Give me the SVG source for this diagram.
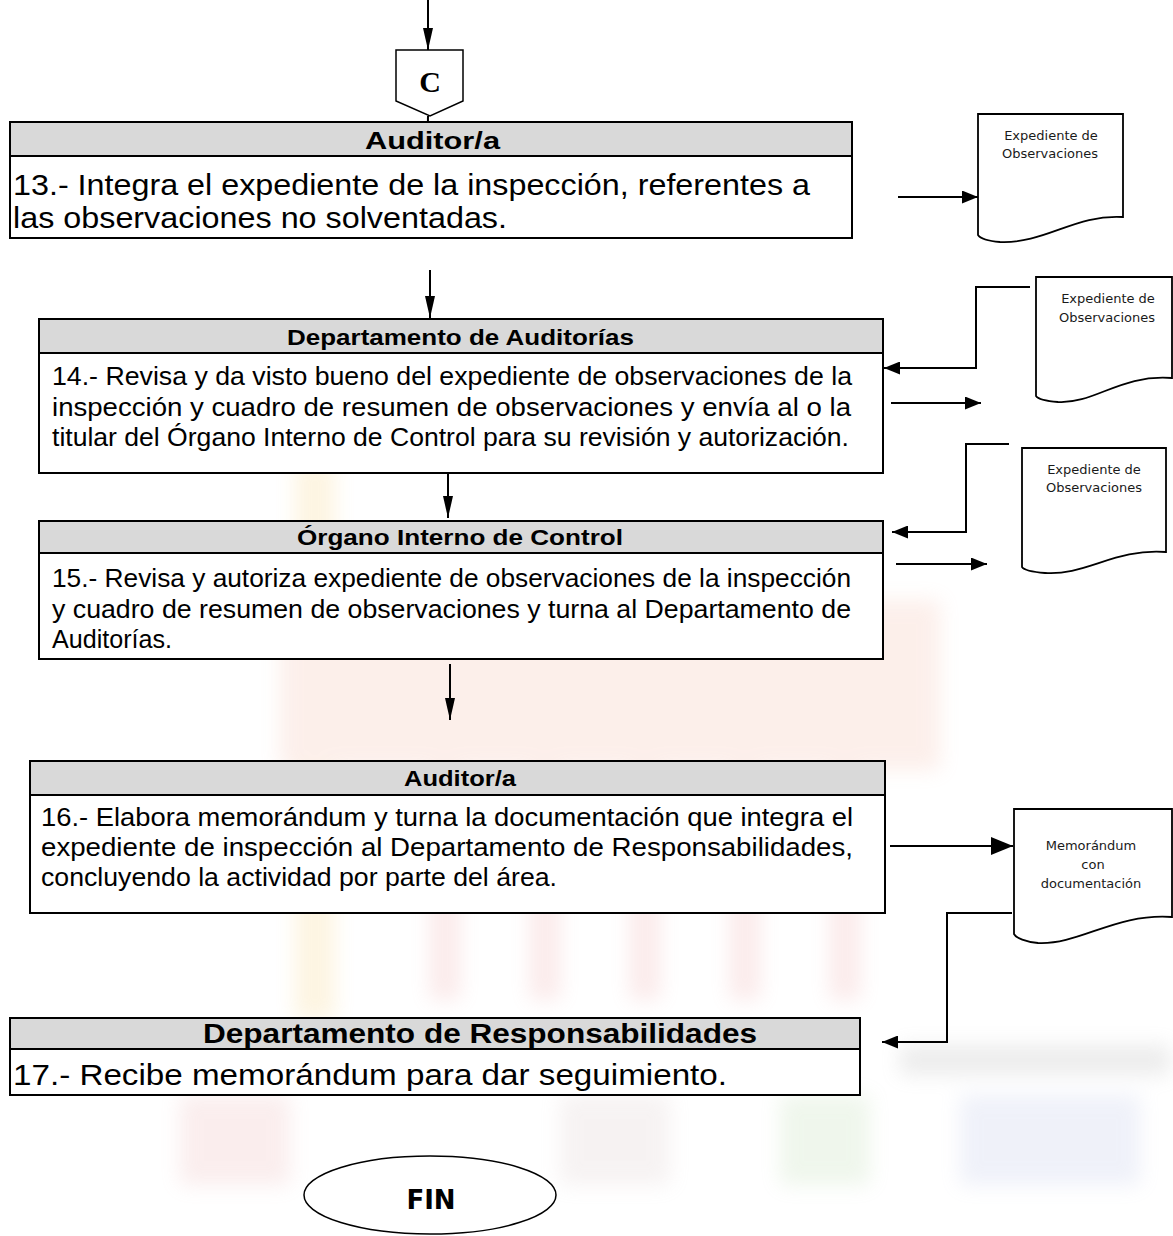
<svg xmlns="http://www.w3.org/2000/svg" width="1173" height="1236" viewBox="0 0 1173 1236">
<style>
.box{fill:#ffffff;stroke:#000;stroke-width:2}
.hdr{fill:#d9d9d9;stroke:#000;stroke-width:2}
.ht{font-family:"Liberation Sans",Arial,sans-serif;font-weight:bold;fill:#000}
.bt{font-family:"Liberation Sans",Arial,sans-serif;fill:#000}
.doc{fill:#fff;stroke:#000;stroke-width:1.8}
.dt{font-family:"DejaVu Sans",Verdana,sans-serif;font-size:13px;fill:#1a1a1a;text-anchor:middle}
.ln{fill:none;stroke:#000;stroke-width:2}
</style>
<defs>
<marker id="aV" viewBox="0 0 22 10" markerWidth="22" markerHeight="10" refX="22" refY="5" orient="auto" markerUnits="userSpaceOnUse"><path d="M0,0 L22,5 L0,10 Z" fill="#000"/></marker>
<marker id="aH" viewBox="0 0 16 13" markerWidth="16" markerHeight="13" refX="16" refY="6.5" orient="auto" markerUnits="userSpaceOnUse"><path d="M0,0 L16,6.5 L0,13 Z" fill="#000"/></marker>
<marker id="aB" viewBox="0 0 22 18" markerWidth="22" markerHeight="18" refX="22" refY="9" orient="auto" markerUnits="userSpaceOnUse"><path d="M0,0 L22,9 L0,18 Z" fill="#000"/></marker>
<filter id="blur" x="-20%" y="-20%" width="140%" height="140%"><feGaussianBlur stdDeviation="10"/></filter>
</defs>
<rect width="1173" height="1236" fill="#fff"/>
<g id="watermark" filter="url(#blur)" opacity="0.18">
<rect x="295" y="460" width="40" height="560" fill="#f5c860"/>
<rect x="280" y="600" width="660" height="170" fill="#f0a890"/>
<rect x="430" y="770" width="30" height="230" fill="#e89090"/>
<rect x="530" y="770" width="30" height="230" fill="#e89090"/>
<rect x="630" y="770" width="30" height="230" fill="#e89090"/>
<rect x="730" y="770" width="30" height="230" fill="#e89090"/>
<rect x="830" y="770" width="30" height="230" fill="#e89090"/>
<rect x="210" y="380" width="80" height="70" fill="#bbbbbb"/>
<rect x="900" y="1045" width="270" height="30" fill="#999999"/>
<rect x="180" y="1095" width="110" height="90" fill="#e6a0a0"/>
<rect x="560" y="1095" width="110" height="90" fill="#d0bcbc"/>
<rect x="780" y="1095" width="90" height="90" fill="#a8d098"/>
<rect x="960" y="1095" width="180" height="90" fill="#a8b4e0"/>
</g>
<g id="connectors">
<line class="ln" x1="428" y1="0" x2="428" y2="50" marker-end="url(#aV)"/>
<line class="ln" x1="428" y1="116" x2="427" y2="176" marker-end="url(#aV)"/>
<line class="ln" x1="898" y1="197" x2="978" y2="197" marker-end="url(#aH)"/>
<line class="ln" x1="430" y1="270" x2="430" y2="318" marker-end="url(#aV)"/>
<polyline class="ln" points="1030,287 976,287 976,368 884,368" marker-end="url(#aH)"/>
<line class="ln" x1="891" y1="403" x2="981" y2="403" marker-end="url(#aH)"/>
<line class="ln" x1="448" y1="455" x2="448" y2="518" marker-end="url(#aV)"/>
<polyline class="ln" points="1009,444 966,444 966,532 892,532" marker-end="url(#aH)"/>
<line class="ln" x1="896" y1="564" x2="987" y2="564" marker-end="url(#aH)"/>
<line class="ln" x1="450" y1="664" x2="450" y2="720" marker-end="url(#aV)"/>
<line class="ln" x1="890" y1="846" x2="1013" y2="846" stroke-width="3" marker-end="url(#aB)"/>
<polyline class="ln" points="1012,913 947,913 947,1042 882,1042" marker-end="url(#aH)"/>
</g>
<g id="conectorC">
<path d="M396,50 H463 V101 L430,116 L396,101 Z" fill="#fff" stroke="#000" stroke-width="1.5"/>
<text x="430" y="92" font-family="Liberation Serif,serif" font-weight="bold" font-size="30" text-anchor="middle">C</text>
</g>
<g id="paso13">
<rect class="box" x="10" y="122" width="842" height="116"/>
<rect class="hdr" x="10" y="122" width="842" height="34"/>
<text class="ht" x="365" y="149" font-size="24" textLength="135" lengthAdjust="spacingAndGlyphs">Auditor/a</text>
<text class="bt" x="13" y="195" font-size="29" textLength="797" lengthAdjust="spacingAndGlyphs">13.- Integra el expediente de la inspección, referentes a</text>
<text class="bt" x="13" y="228" font-size="29" textLength="494" lengthAdjust="spacingAndGlyphs">las observaciones no solventadas.</text>
</g>
<g id="paso14">
<rect class="box" x="39" y="319" width="844" height="154"/>
<rect class="hdr" x="39" y="319" width="844" height="34"/>
<text class="ht" x="287" y="345" font-size="22" textLength="347" lengthAdjust="spacingAndGlyphs">Departamento de Auditorías</text>
<text class="bt" x="52" y="385" font-size="25" textLength="800" lengthAdjust="spacingAndGlyphs">14.- Revisa y da visto bueno del expediente de observaciones de la</text>
<text class="bt" x="52" y="416" font-size="25" textLength="799" lengthAdjust="spacingAndGlyphs">inspección y cuadro de resumen de observaciones y envía al o la</text>
<text class="bt" x="52" y="446" font-size="25" textLength="797" lengthAdjust="spacingAndGlyphs">titular del Órgano Interno de Control para su revisión y autorización.</text>
</g>
<g id="paso15">
<rect class="box" x="39" y="521" width="844" height="138"/>
<rect class="hdr" x="39" y="521" width="844" height="32"/>
<text class="ht" x="297" y="545" font-size="22" textLength="326" lengthAdjust="spacingAndGlyphs">Órgano Interno de Control</text>
<text class="bt" x="52" y="587" font-size="25" textLength="799" lengthAdjust="spacingAndGlyphs">15.- Revisa y autoriza expediente de observaciones de la inspección</text>
<text class="bt" x="52" y="618" font-size="25" textLength="799" lengthAdjust="spacingAndGlyphs">y cuadro de resumen de observaciones y turna al Departamento de</text>
<text class="bt" x="52" y="648" font-size="25" textLength="120" lengthAdjust="spacingAndGlyphs">Auditorías.</text>
</g>
<g id="paso16">
<rect class="box" x="30" y="761" width="855" height="152"/>
<rect class="hdr" x="30" y="761" width="855" height="34"/>
<text class="ht" x="404" y="786" font-size="22" textLength="112" lengthAdjust="spacingAndGlyphs">Auditor/a</text>
<text class="bt" x="41" y="826" font-size="25" textLength="812" lengthAdjust="spacingAndGlyphs">16.- Elabora memorándum y turna la documentación que integra el</text>
<text class="bt" x="41" y="856" font-size="25" textLength="812" lengthAdjust="spacingAndGlyphs">expediente de inspección al Departamento de Responsabilidades,</text>
<text class="bt" x="41" y="886" font-size="25" textLength="516" lengthAdjust="spacingAndGlyphs">concluyendo la actividad por parte del área.</text>
</g>
<g id="paso17">
<rect class="box" x="10" y="1018" width="850" height="77"/>
<rect class="hdr" x="10" y="1018" width="850" height="31"/>
<text class="ht" x="203" y="1043" font-size="27" textLength="554" lengthAdjust="spacingAndGlyphs">Departamento de Responsabilidades</text>
<text class="bt" x="13" y="1085" font-size="30" textLength="714" lengthAdjust="spacingAndGlyphs">17.- Recibe memorándum para dar seguimiento.</text>
</g>
<g id="doc1">
<path class="doc" d="M978,114 H1123 V217 C1075,214 1045,244 1000,242 C988,241 980,238 978,235 Z"/>
<text class="dt" x="1051" y="140">Expediente de</text>
<text class="dt" x="1050" y="158">Observaciones</text>
</g>
<g id="doc2">
<path class="doc" d="M1036,277 H1172 V378 C1120,374 1095,404 1058,402 C1046,401 1038,399 1036,396 Z"/>
<text class="dt" x="1108" y="303">Expediente de</text>
<text class="dt" x="1107" y="322">Observaciones</text>
</g>
<g id="doc3">
<path class="doc" d="M1022,448 H1166 V552 C1115,548 1085,576 1045,573 C1033,572 1024,570 1022,567 Z"/>
<text class="dt" x="1094" y="474">Expediente de</text>
<text class="dt" x="1094" y="492">Observaciones</text>
</g>
<g id="doc4">
<path class="doc" d="M1014,809 H1172 V917 C1115,913 1080,945 1038,943 C1026,942 1016,938 1014,934 Z"/>
<text class="dt" x="1091" y="850">Memorándum</text>
<text class="dt" x="1093" y="869">con</text>
<text class="dt" x="1091" y="888">documentación</text>
</g>
<g id="fin">
<ellipse cx="430" cy="1195" rx="126" ry="39" fill="#fff" stroke="#000" stroke-width="1.5"/>
<text x="431" y="1209" font-family="DejaVu Sans,Verdana,sans-serif" font-weight="bold" font-size="26" text-anchor="middle">FIN</text>
</g>
</svg>
